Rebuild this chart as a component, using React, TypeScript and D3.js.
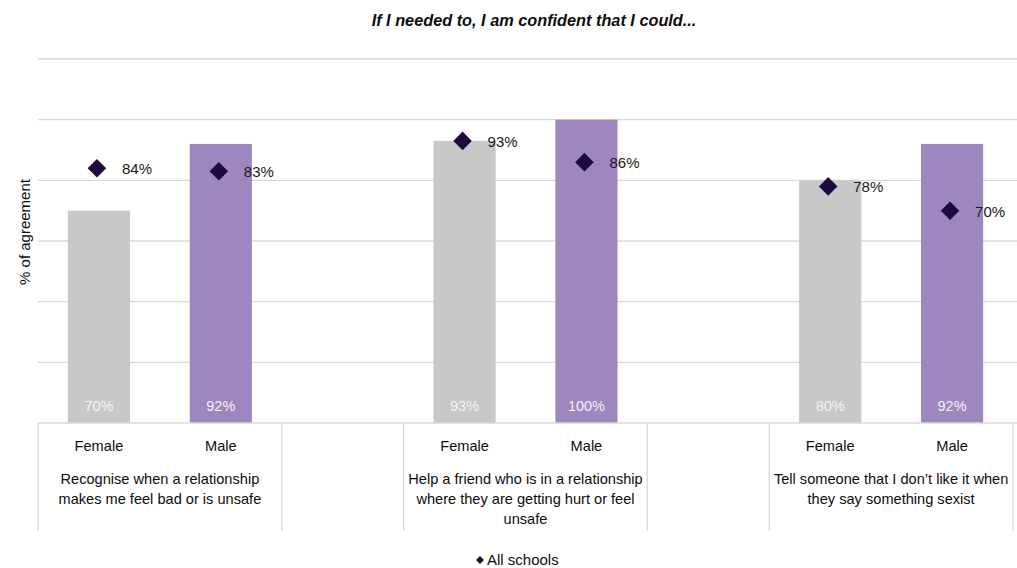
import React from "react";
import * as d3 from "d3";

const title = "If I needed to, I am confident that I could...";
const yAxisTitle = "% of agreement";
const legendLabel = "All schools";

const genders = ["Female", "Male", "", "Female", "Male", "", "Female", "Male"];
const barValues: (number | null)[] = [70, 92, null, 93, 100, null, 80, 92];
const allSchools: (number | null)[] = [84, 83, null, 93, 86, null, 78, 70];
const groupLabels: string[][] = [
  ["Recognise when a relationship", "makes me feel bad or is unsafe"],
  ["Help a friend who is in a relationship", "where they are getting hurt or feel", "unsafe"],
  ["Tell someone that I don\u2019t like it when", "they say something sexist"],
];
const groupStart = [0, 3, 6];
const groupEnd = [2, 5, 8];
const boundaries = [0, 2, 3, 5, 6, 8];
const yTicks = [20, 40, 60, 80, 100, 120];

const W = 1017;
const H = 568;
const FONT = "'Liberation Sans', Arial, sans-serif";
const GREY = "#c8c8c8";
const PURPLE = "#9e87bf";
const DIAMOND = "#1e0a3c";
const GRID = "#d9d9d9";

export default function App() {
  const x = d3
    .scaleBand<number>()
    .domain(d3.range(genders.length))
    .range([38, 1013])
    .paddingInner(0)
    .paddingOuter(0);
  const y = d3.scaleLinear().domain([0, 120]).range([423, 59]);
  const bw = x.bandwidth();
  const barW = bw * 0.51;
  const edge = (i: number) => (i >= genders.length ? x.range()[1] : (x(i) as number));
  const diamond = d3.symbol().type(d3.symbolDiamond2).size(220);
  const legendDiamond = d3.symbol().type(d3.symbolDiamond2).size(40);

  return (
    <svg
      width={W}
      height={H}
      style={{ position: "absolute", left: 0, top: 0, background: "#fff" }}
      fontFamily={FONT}
    >
      <text
        x={534}
        y={26}
        textAnchor="middle"
        fontSize={16.3}
        fontWeight="bold"
        fontStyle="italic"
        fill="#0d0d0d"
      >
        {title}
      </text>

      {yTicks.map((t) => (
        <line key={t} x1={38} x2={1017} y1={y(t)} y2={y(t)} stroke={GRID} strokeWidth={1.3} />
      ))}

      <text
        transform={`translate(30,${232}) rotate(-90)`}
        textAnchor="middle"
        fontSize={15}
        fill="#0d0d0d"
      >
        {yAxisTitle}
      </text>

      {barValues.map((v, i) =>
        v == null ? null : (
          <g key={i}>
            <rect
              x={(x(i) as number) + (bw - barW) / 2}
              y={y(v)}
              width={barW}
              height={y(0) - y(v)}
              fill={genders[i] === "Female" ? GREY : PURPLE}
            />
            <text
              x={(x(i) as number) + bw / 2}
              y={411}
              textAnchor="middle"
              fontSize={14.5}
              fill="#f2f2f2"
            >
              {v}%
            </text>
          </g>
        )
      )}

      {/* category axis */}
      <line x1={38} x2={1017} y1={y(0)} y2={y(0)} stroke={GRID} strokeWidth={1.3} />
      {boundaries.map((b) => (
        <line key={b} x1={edge(b)} x2={edge(b)} y1={y(0)} y2={531} stroke={GRID} strokeWidth={1.3} />
      ))}
      {genders.map((g, i) =>
        g ? (
          <text
            key={i}
            x={(x(i) as number) + bw / 2}
            y={451}
            textAnchor="middle"
            fontSize={14.6}
            fill="#0d0d0d"
          >
            {g}
          </text>
        ) : null
      )}
      {groupLabels.map((lines, gi) => {
        const cx = (edge(groupStart[gi]) + edge(groupEnd[gi])) / 2;
        return (
          <text key={gi} textAnchor="middle" fontSize={14.6} fill="#0d0d0d">
            {lines.map((l, li) => (
              <tspan key={li} x={cx} y={484 + li * 20}>
                {l}
              </tspan>
            ))}
          </text>
        );
      })}

      {/* All schools diamonds */}
      {allSchools.map((v, i) =>
        v == null ? null : (
          <g key={i}>
            <path
              d={diamond() as string}
              transform={`translate(${(x(i) as number) + bw / 2 - 2},${y(v)})`}
              fill={DIAMOND}
            />
            <text
              x={(x(i) as number) + bw / 2 + 23}
              y={y(v) + 6}
              fontSize={15}
              fill="#1a1a1a"
            >
              {v}%
            </text>
          </g>
        )
      )}

      {/* legend */}
      <path d={legendDiamond() as string} transform="translate(480,560)" fill={DIAMOND} />
      <text x={487} y={565} fontSize={15} fill="#0d0d0d">
        {legendLabel}
      </text>
    </svg>
  );
}
